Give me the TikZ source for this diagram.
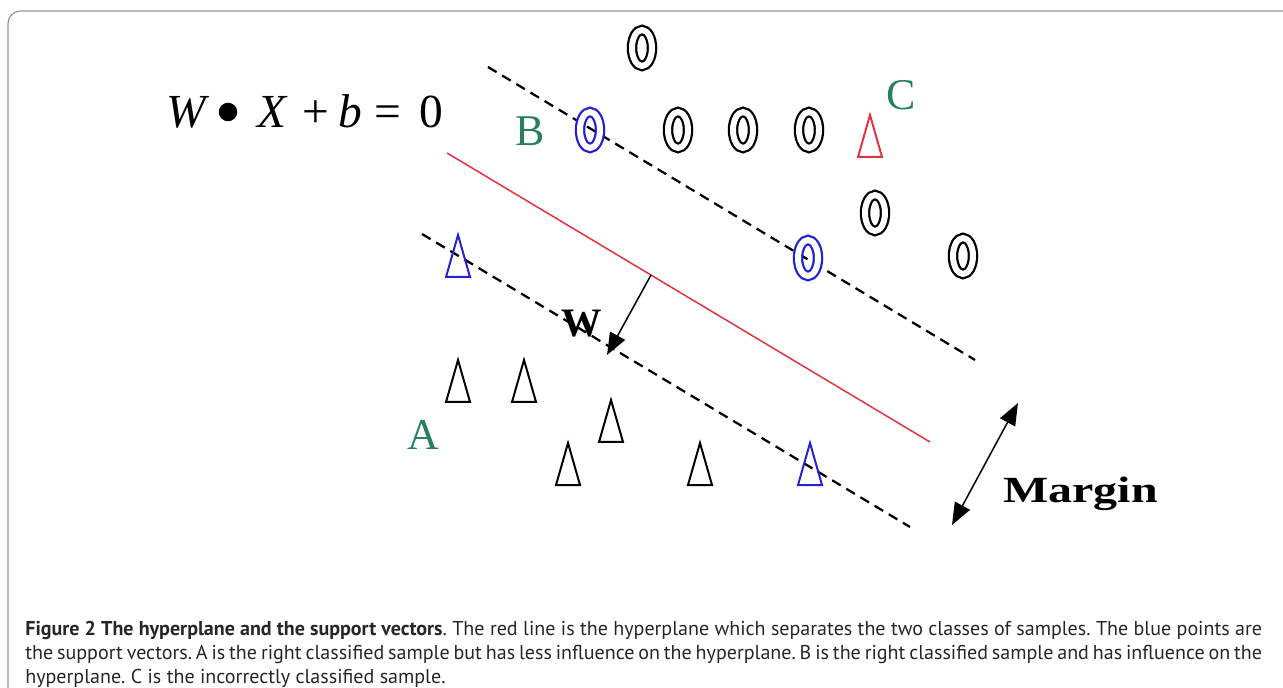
\documentclass[tikz,border=0pt]{standalone}
\usepackage{fontspec}
\setmainfont{PT Sans}
\newfontfamily\tms{Liberation Serif}
\usetikzlibrary{arrows.meta,shapes.geometric}

\definecolor{lblgreen}{RGB}{40,128,90}
\definecolor{svblue}{RGB}{35,35,205}
\definecolor{hpred}{RGB}{222,52,64}
\definecolor{framegray}{RGB}{150,150,150}

\tikzset{
  ring/.style={ellipse, draw, double, double distance=0.12cm, line width=0.045cm,
    minimum width=0.4cm, minimum height=0.72cm, inner sep=0pt},
  tri/.pic={\draw[pic actions, line width=0.04cm, line join=miter] (0,-21) -- (12,21) -- (-12,21) -- cycle;},
  lbl/.style={font=\tms\fontsize{25}{30}\selectfont, text=lblgreen, inner sep=0pt},
  eqn/.style={font=\tms\fontsize{27}{32}\selectfont, anchor=base, inner sep=0pt},
  margin/.style={black, dashed, line width=0.045cm, dash pattern=on 0.2cm off 0.13cm},
  vec/.style={line width=0.03cm, -{Triangle[length=0.44cm,width=0.34cm]}},
  caption/.style={text width=24.74cm, align=justify, inner sep=0pt,
    font=\fontsize{11.4}{13.66}\selectfont\frenchspacing, text=black!85}
}

\begin{document}
\begin{tikzpicture}[x=0.02cm, y=-0.02cm]
\useasboundingbox (0,0) rectangle (1283,688);
\draw[framegray, line width=0.024cm, rounded corners=0.25cm] (8,11) rectangle (1330,730);

% equation of the hyperplane
\node[eqn] (eqW) at (186,128) {\itshape W};
\node[circle, fill, inner sep=0pt, minimum size=0.37cm] (eqdot) at (228,112) {};
\node[eqn] (eqX) at (272,128) {\itshape X};
\node[eqn] (eqplus) at (316,128) {+};
\node[eqn] (eqb) at (350,128) {\itshape b};
\node[eqn] (eqeq) at (388,128) {=};
\node[eqn] (eqzero) at (431,128) {0};

% hyperplane and margins
\coordinate (hp1) at (447,153);
\coordinate (hp2) at (930,442);
\coordinate (up1) at (488,67);
\coordinate (up2) at (975,360);
\coordinate (lo1) at (422,234);
\coordinate (lo2) at (910,527);
\draw[hpred, line width=0.03cm] (hp1) -- (hp2);
\draw[margin] (up1) -- (up2);
\draw[margin] (lo1) -- (lo2);

% samples of the first class
\node[ring] (r1) at (642,48) {};
\node[ring, svblue] (r2) at (590,130) {};
\node[ring] (r3) at (678,130) {};
\node[ring] (r4) at (743,130) {};
\node[ring] (r5) at (809,130) {};
\node[ring] (r6) at (875,213) {};
\node[ring, svblue] (r7) at (808,258) {};
\node[ring] (r8) at (963,256) {};

% samples of the second class
\pic[svblue] (t1) at (458,256) {tri};
\pic (t2) at (458,381) {tri};
\pic (t3) at (524,381) {tri};
\pic (t4) at (611,421) {tri};
\pic (t5) at (568,464) {tri};
\pic (t6) at (700,464) {tri};
\pic[svblue] (t7) at (810,464) {tri};
\pic[hpred] (t8) at (870,136) {tri};

\node[lbl] (labA) at (423,435) {A};
\node[lbl] (labB) at (530,131) {B};
\node[lbl] (labC) at (901,95) {C};

% normal vector and margin width
\coordinate (wfoot) at (651,275);
\coordinate (wtip) at (607,355);
\draw[vec] (wfoot) -- (wtip);
\node[font=\tms\bfseries\fontsize{23}{28}\selectfont, inner sep=0pt] (labW) at (582,324) {W};
\coordinate (mtop) at (1018,403);
\coordinate (mbot) at (952,525);
\draw[vec, {Triangle[length=0.44cm,width=0.34cm]}-{Triangle[length=0.44cm,width=0.34cm]}] (mtop) -- (mbot);
\node[font=\tms\bfseries\fontsize{21}{26}\selectfont, inner sep=0pt, anchor=base west] (labM) at (1003,502) {\scalebox{1.3}[1]{Margin}};

% caption
\node[caption, anchor=north west] (cap) at (25,621) {\textbf{Figure 2 The hyperplane and the support vectors}. The red line is the hyperplane which separates the two classes of samples. The blue points are\linebreak the support vectors. A is the right classified sample but has less influence on the hyperplane. B is the right classified sample and has influence on the\linebreak hyperplane. C is the incorrectly classified sample.};
\end{tikzpicture}
\end{document}
